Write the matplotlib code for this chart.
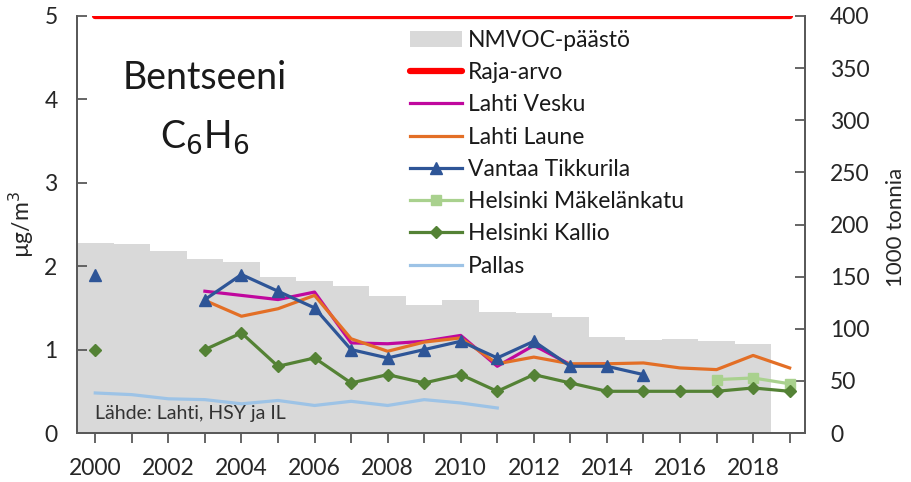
import matplotlib
matplotlib.use("Agg")
import matplotlib.pyplot as plt
import numpy as np

plt.rcParams['font.family'] = ['Lato', 'DejaVu Sans']

years = list(range(2000, 2020))
nmvoc_years = list(range(2000, 2019))
nmvoc = [182, 181, 175, 167, 164, 150, 146, 141, 131, 123, 128, 116, 115, 111, 92, 89, 90, 88, 85]

raja_years = [2000, 2019]
raja = [5, 5]

vesku_years = list(range(2003, 2015))
vesku = [1.70, 1.65, 1.60, 1.69, 1.08, 1.07, 1.10, 1.17, 0.80, 1.05, 0.82, 0.83]

laune_years = list(range(2003, 2020))
laune = [1.59, 1.40, 1.49, 1.65, 1.13, 0.98, 1.09, 1.14, 0.83, 0.91, 0.83, 0.83, 0.84, 0.78, 0.76, 0.93, 0.78]

tikk_years = [2000] + list(range(2003, 2016))
tikk = [1.9, 1.6, 1.9, 1.7, 1.5, 1.0, 0.9, 1.0, 1.1, 0.9, 1.1, 0.8, 0.8, 0.7]

makel_years = [2017, 2018, 2019]
makel = [0.64, 0.66, 0.59]

kallio_years = [2000] + list(range(2003, 2020))
kallio = [1.0, 1.0, 1.2, 0.8, 0.9, 0.6, 0.7, 0.6, 0.7, 0.5, 0.7, 0.6, 0.5, 0.5, 0.5, 0.5, 0.54, 0.5]

pallas_years = list(range(2000, 2012))
pallas = [0.48, 0.46, 0.41, 0.40, 0.35, 0.39, 0.33, 0.38, 0.33, 0.40, 0.36, 0.30]

xticklabels = [str(y) for y in range(2000, 2019, 2)]

W, H = 912, 482
fig = plt.figure(figsize=(W / 100, H / 100), dpi=100)
L, R, B, T = 77, 805, 433, 16
ax = fig.add_axes([L / W, 1 - B / H, (R - L) / W, (B - T) / H])
ax2 = ax.twinx()
ax.set_zorder(ax2.get_zorder() + 1)
ax.patch.set_visible(False)

spine_c = '#595959'
txt_c = '#262626'
bars = ax2.bar(nmvoc_years, nmvoc, width=1.0, color='#D9D9D9', linewidth=0, label='NMVOC-päästö')
ax2.set_ylim(0, 400)
ax2.set_yticks(range(0, 401, 50))

def split_runs(xs, ys):
    runs = []
    cur_x, cur_y = [xs[0]], [ys[0]]
    for a, b in zip(xs[1:], ys[1:]):
        if a == cur_x[-1] + 1:
            cur_x.append(a); cur_y.append(b)
        else:
            runs.append((cur_x, cur_y)); cur_x, cur_y = [a], [b]
    runs.append((cur_x, cur_y))
    return runs

h_raja, = ax.plot(raja_years, raja, color='#FF0000', lw=4.5, solid_capstyle='round', label='Raja-arvo')
h_vesku, = ax.plot(vesku_years, vesku, color='#C0089E', lw=2.3, label='Lahti Vesku')
h_laune, = ax.plot(laune_years, laune, color='#E36F26', lw=2.3, label='Lahti Laune')

def plot_series(xs, ys, color, marker, ms, label):
    h = None
    for rx, ry in split_runs(xs, ys):
        hh, = ax.plot(rx, ry, color=color, lw=2.3, marker=marker, ms=ms, mec=color, mfc=color, label=label)
        if h is None:
            h = hh
    return h

h_tikk = plot_series(tikk_years, tikk, '#2E5597', '^', 8.5, 'Vantaa Tikkurila')
h_makel = plot_series(makel_years, makel, '#A9D18E', 's', 7, 'Helsinki Mäkelänkatu')
h_kallio = plot_series(kallio_years, kallio, '#548235', 'D', 6.5, 'Helsinki Kallio')
h_pallas, = ax.plot(pallas_years, pallas, color='#9DC3E6', lw=2.3, label='Pallas')

ax.set_xlim(1999.5, 2019.42)
ax.set_ylim(0, 5)
ax.set_yticks(range(0, 6))
ax.set_xticks(years, minor=True)
ax.set_xticks(range(2000, 2019, 2))
ax.set_xticklabels(xticklabels)

for a in (ax, ax2):
    a.spines['top'].set_visible(False)
    for s in ('left', 'right', 'bottom'):
        a.spines[s].set_color(spine_c)
        a.spines[s].set_linewidth(1.3)

fs = 16.5
ax.tick_params(axis='y', direction='in', length=7, width=1.3, color=spine_c, labelsize=fs, pad=14, labelcolor=txt_c)
ax2.tick_params(axis='y', direction='in', length=7, width=1.3, color=spine_c, labelsize=fs, pad=18, labelcolor=txt_c)
ax.tick_params(axis='x', which='both', direction='out', length=7, width=1.3, color=spine_c, labelsize=fs, pad=11, labelcolor=txt_c)

ax.set_ylabel('µg/m$^3$', fontsize=fs, labelpad=6, color=txt_c)
fig.text(896 / W, 1 - 227 / H, '1000 tonnia', fontsize=16, rotation=90,
         ha='center', va='center', color=txt_c)

fig.text(205 / W, 1 - 78 / H, 'Bentseeni', fontsize=27, ha='center', va='center', color='#1a1a1a')
fig.text(205 / W, 1 - 137 / H, r'C$_6$H$_6$', fontsize=27, ha='center', va='center', color='#1a1a1a')
fig.text(95 / W, 1 - 413 / H, 'Lähde: Lahti, HSY ja IL', fontsize=14, ha='left', va='center', color='#333333')

handles = [bars, h_raja, h_vesku, h_laune, h_tikk, h_makel, h_kallio, h_pallas]
labels = [h.get_label() for h in handles]
leg = fig.legend(handles, labels, loc='upper left', bbox_to_anchor=(410 / W, 1 - 30 / H),
                 frameon=False, fontsize=fs, handlelength=2.27, handletextpad=0.25,
                 labelspacing=0.49, borderaxespad=0, borderpad=0)
for t in leg.get_texts():
    t.set_color('#1a1a1a')

fig.savefig('out.png', dpi=100)
